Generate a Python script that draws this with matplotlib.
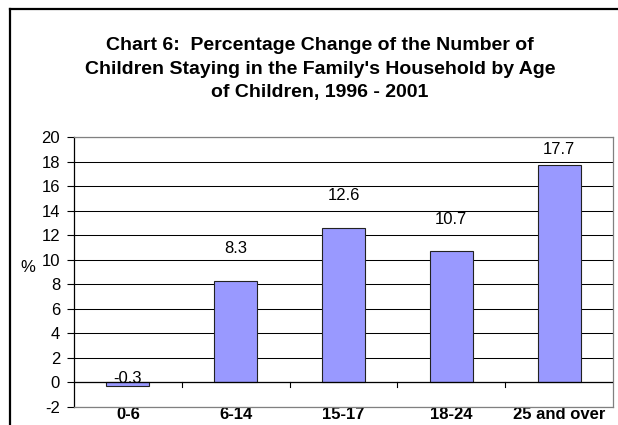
import matplotlib
matplotlib.use("Agg")
import matplotlib.pyplot as plt
from matplotlib.lines import Line2D
import numpy as np

plt.rcParams['font.family'] = ['Liberation Sans', 'DejaVu Sans']

# data
ages = ['0-6', '6-14', '15-17', '18-24', '25 and over']
pct_change = [-0.3, 8.3, 12.6, 10.7, 17.7]
value_labels = ['-0.3', '8.3', '12.6', '10.7', '17.7']
y_ticks = list(range(-2, 21, 2))
title = ("Chart 6:  Percentage Change of the Number of\n"
         "Children Staying in the Family's Household by Age\n"
         "of Children, 1996 - 2001")

W, H = 618, 425
fig = plt.figure(figsize=(W / 100, H / 100), dpi=100)
fig.patch.set_facecolor('white')

# outer chart frame (right and bottom run off the picture)
fig.add_artist(Line2D([9.5 / W, 9.5 / W], [0, 1 - 8.5 / H], transform=fig.transFigure,
                      color='black', lw=1.6))
fig.add_artist(Line2D([9.5 / W, 1], [1 - 8.5 / H, 1 - 8.5 / H], transform=fig.transFigure,
                      color='black', lw=1.6))

fig.text(320 / W, 1 - 69 / H, title, ha='center', va='center', fontsize=14,
         fontweight='bold', linespacing=1.52)

ax = fig.add_axes([74 / W, 1 - 407 / H, (613 - 74) / W, (407 - 137) / H])
x = np.arange(len(ages))
ax.set_xlim(-0.5, len(ages) - 0.5)
ax.set_ylim(-2, 20)

for yv in y_ticks:
    ax.axhline(yv, color='black', lw=0.75, zorder=1)

ax.bar(x, pct_change, width=0.4, color='#9999FF', edgecolor='#222222', lw=0.8, zorder=3)

# x axis line at zero with ticks between categories
ax.axhline(0, color='black', lw=0.9, zorder=4)
for b in x[:-1] + 0.5:
    ax.plot([b, b], [0, -0.4], color='black', lw=0.8, zorder=4, clip_on=False)

for xi, v, lab in zip(x, pct_change, value_labels):
    if v < 0:
        yl = 0.35
    else:
        yl = min(v + 2.6, 18.95)
    ax.text(xi, yl, lab, ha='center', va='center', fontsize=12, zorder=5)

ax.set_yticks(y_ticks)
ax.set_yticklabels([str(t) for t in y_ticks], fontsize=12)
ax.tick_params(axis='y', length=5, width=0.8, pad=5, color='black')
ax.set_xticks(x)
ax.set_xticklabels(ages, fontsize=12, fontweight='bold')
ax.tick_params(axis='x', length=0, pad=0)

for side in ['top', 'right', 'bottom']:
    ax.spines[side].set_color('#808080')
    ax.spines[side].set_linewidth(0.9)
ax.spines['left'].set_color('black')
ax.spines['left'].set_linewidth(0.9)

ax.set_ylabel('%', rotation=0, fontsize=12)
ax.yaxis.set_label_coords((28 - 74) / 539, (407 - 275) / 270)

fig.savefig('out.png', dpi=100)
